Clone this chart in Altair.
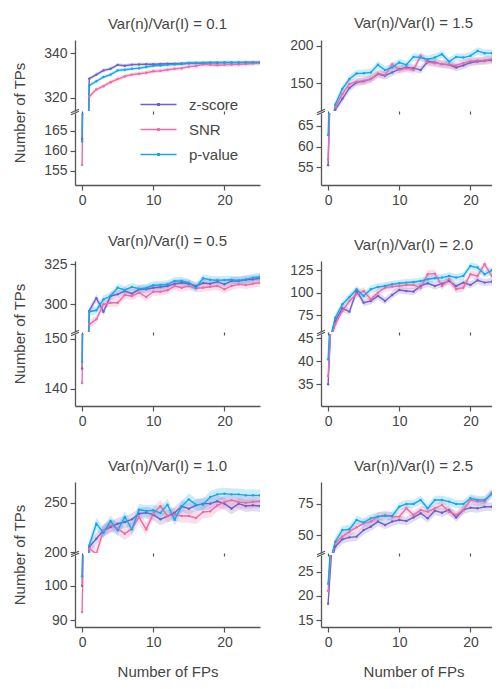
import altair as alt
import pandas as pd

# ---------------- data ----------------
FPS = list(range(26))
METHODS = ["z-score", "SNR", "p-value"]
COLORS = ["#7060c6", "#ee6ba6", "#12a8ec"]
RATIOS = ["0.1", "1.5", "0.5", "2.0", "1.0", "2.5"]

# Var(n)/Var(I) = 0.1
z_01 = [163.0, 328.6, 330.4, 332.3, 333.0, 334.8, 334.4, 334.9, 335.0, 335.1, 335.1, 335.2, 335.3,
        335.3, 335.4, 335.5, 335.6, 335.6, 335.7, 335.7, 335.8, 335.8, 335.8, 335.9, 335.9, 335.9]
s_01 = [156.5, 320.5, 323.7, 325.2, 327.0, 328.4, 329.6, 330.4, 330.8, 331.2, 331.9, 332.1, 332.6,
        333.0, 333.3, 334.0, 334.3, 335.0, 334.8, 334.6, 334.8, 334.9, 335.0, 335.2, 335.4, 335.6]
p_01 = [162.3, 325.5, 327.4, 329.3, 330.4, 332.3, 332.6, 333.0, 333.3, 333.8, 334.4, 334.5, 334.8,
        335.0, 335.2, 335.6, 335.7, 335.8, 335.9, 335.9, 335.9, 335.9, 335.9, 335.9, 335.9, 335.9]
# 1.5
z_15 = [55.5, 115.0, 129.3, 143.9, 151.3, 152.7, 155.8, 162.4, 160.2, 164.6, 169.1, 171.3, 170.4,
        167.8, 179.2, 177.9, 175.7, 174.8, 171.3, 174.0, 177.9, 179.2, 180.0, 181.0, 183.7, 184.0]
s_15 = [56.8, 118.0, 135.9, 149.2, 152.3, 153.6, 155.8, 163.3, 161.1, 175.7, 168.0, 170.0, 167.8,
        186.8, 178.0, 177.0, 176.0, 175.0, 174.0, 177.0, 179.7, 180.5, 181.0, 182.5, 185.0, 186.0]
p_15 = [62.8, 121.7, 142.5, 155.8, 163.3, 163.5, 164.6, 174.8, 167.8, 171.3, 177.9, 174.8, 185.4,
        184.5, 182.4, 184.5, 189.0, 179.2, 185.4, 184.5, 186.8, 193.4, 190.4, 190.4, 194.3, 193.0]
# 0.5
z_05 = [144.0, 296.0, 303.8, 295.4, 305.2, 306.3, 308.3, 306.7, 309.4, 309.4, 310.4, 310.8, 311.5,
        312.9, 313.5, 312.9, 311.5, 313.3, 312.9, 314.2, 312.5, 314.6, 314.6, 315.4, 315.6, 316.3]
s_05 = [141.1, 287.5, 290.6, 300.0, 301.0, 301.0, 305.8, 305.2, 307.3, 304.6, 307.9, 307.9, 308.8,
        311.5, 310.4, 311.5, 310.0, 310.4, 311.0, 311.5, 309.4, 311.5, 312.5, 312.1, 312.9, 313.5]
p_05 = [145.3, 295.4, 296.3, 303.1, 305.2, 310.4, 309.0, 310.8, 309.8, 310.2, 311.9, 312.1, 312.5,
        314.6, 314.6, 313.5, 310.4, 316.3, 315.4, 315.0, 315.2, 315.4, 315.0, 315.6, 316.7, 317.1]
# 2.0
z_20 = [35.0, 68.7, 82.8, 79.1, 102.0, 89.1, 91.0, 96.5, 91.0, 97.6, 103.1, 102.0, 101.3,
        107.6, 110.6, 107.6, 110.2, 113.1, 107.6, 111.3, 108.7, 113.9, 111.3, 112.4, 111.7, 111.3]
s_20 = [36.8, 65.0, 79.8, 90.9, 98.3, 102.0, 92.8, 100.2, 105.7, 106.9, 107.6, 108.7, 108.7,
        105.7, 120.6, 121.3, 107.6, 115.0, 103.9, 105.7, 120.6, 118.7, 131.7, 118.7, 122.4, 125.0]
p_20 = [40.4, 72.4, 87.2, 95.4, 103.9, 96.5, 103.9, 106.5, 107.6, 109.4, 110.6, 111.3, 112.0,
        113.1, 115.0, 116.1, 116.9, 118.7, 116.9, 118.7, 129.8, 128.0, 120.6, 125.0, 127.2, 128.0]
# 1.0
z_10 = [100.0, 205.0, 213.6, 222.1, 225.5, 228.9, 230.6, 233.3, 239.1, 240.1, 238.1, 233.3, 236.7,
        240.1, 246.6, 244.2, 247.6, 249.3, 249.3, 251.7, 249.3, 244.2, 249.3, 246.9, 247.6, 246.9]
s_10 = [92.4, 203.4, 198.3, 222.1, 227.2, 223.8, 218.7, 223.8, 235.7, 223.1, 239.1, 246.9, 236.7,
        238.1, 236.7, 236.7, 234.7, 240.8, 241.5, 247.6, 251.0, 252.7, 251.0, 250.3, 251.0, 251.7]
p_10 = [102.8, 206.8, 228.9, 219.7, 231.6, 222.1, 235.7, 223.1, 243.2, 241.8, 242.5, 239.8, 248.3,
        233.0, 246.6, 253.7, 248.3, 248.3, 256.1, 258.8, 259.5, 258.8, 258.8, 257.8, 257.8, 257.8]
# 2.5
z_25 = [18.4, 40.6, 46.5, 48.1, 48.7, 54.0, 56.7, 60.8, 58.1, 60.8, 62.1, 61.3, 64.2,
        67.5, 63.4, 69.6, 68.0, 70.2, 64.2, 70.2, 72.0, 71.5, 72.8, 72.8, 72.3, 71.5]
s_25 = [21.0, 43.3, 48.7, 52.7, 56.2, 59.4, 60.8, 64.8, 66.1, 64.8, 64.8, 71.5, 66.1,
        70.2, 68.8, 71.5, 74.2, 68.8, 66.1, 70.2, 78.2, 76.9, 76.9, 84.1, 86.8, 86.3]
p_25 = [22.5, 44.6, 54.0, 54.6, 62.1, 60.0, 63.4, 64.8, 65.3, 65.3, 72.8, 75.0, 75.0,
        78.2, 71.5, 78.2, 78.2, 76.9, 75.0, 75.0, 79.6, 78.2, 78.2, 83.1, 80.4, 81.5]

SERIES = {
    "0.1": (z_01, s_01, p_01), "1.5": (z_15, s_15, p_15),
    "0.5": (z_05, s_05, p_05), "2.0": (z_20, s_20, p_20),
    "1.0": (z_10, s_10, p_10), "2.5": (z_25, s_25, p_25),
}
# CI half-widths per method (z, SNR, p) for FP>=1 and for FP=0
HALF = {
    "0.1": ([0.8, 1.0, 0.8], [2.5, 4.0, 2.0]),
    "1.5": ([5.0, 5.0, 5.0], [2.0, 2.5, 2.0]),
    "0.5": ([2.5, 2.5, 2.5], [2.5, 3.0, 2.5]),
    "2.0": ([4.0, 4.5, 4.0], [1.5, 1.5, 1.5]),
    "1.0": ([6.0, 6.5, 6.0], [4.0, 4.0, 4.0]),
    "2.5": ([3.5, 3.5, 3.5], [1.0, 1.0, 1.0]),
}
# broken y axis: (upper domain, upper ticks, lower domain, lower ticks)
YAXES = {
    "0.1": ([314, 346], [320, 340], [151.5, 169.4], [155, 160, 165]),
    "1.5": ([113, 208], [150, 200], [50.7, 68.1], [55, 60, 65]),
    "0.5": ([282.7, 327.1], [300, 325], [136.5, 150.9], [140, 150]),
    "2.0": ([56.5, 135.3], [75, 100, 125], [30.3, 45.9], [35, 40, 45]),
    "1.0": ([199, 271.4], [200, 250], [88, 109], [90, 100]),
    "2.5": ([35.5, 92.7], [50, 75], [13.6, 28.4], [15, 20, 25]),
}

rows = []
for r in RATIOS:
    half, half0 = HALF[r]
    for m, vals, h, h0 in zip(METHODS, SERIES[r], half, half0):
        for fp, v in zip(FPS, vals):
            hw = h0 if fp == 0 else h
            rows.append(dict(ratio=r, fp=fp, method=m, tps=v, lo=v - hw, hi=v + hw))
df = pd.DataFrame(rows)

# ---------------- layout ----------------
W, HT, HB = 185, 71, 72          # left column plot width, upper / lower sub-plot heights
WR = 171                          # right column is cut off by the page edge
XMAX_L = 25
XMAX_R = -1 + WR * (XMAX_L + 1) / W
TXT = "#454545"
AX = "#555555"
FONT = "Liberation Sans"

color_scale = alt.Scale(domain=METHODS, range=COLORS)
# separate (reversed) domain so the band legend is not merged with the line legend
fill_scale = alt.Scale(domain=METHODS[::-1], range=COLORS[::-1])
legend = alt.Legend(
    title=None, orient="none", legendX=76, legendY=57, padding=0,
    symbolType="M-4,0L4,0M-0.15,-0.15L0.15,-0.15L0.15,0.15L-0.15,0.15Z",
    symbolSize=81, symbolStrokeWidth=1.5, labelFontSize=15, labelColor=TXT,
    labelFont=FONT, labelOffset=23, rowPadding=9,
)


def sub(ratio, part, left, last):
    d = df[df.ratio == ratio]
    dtop, ttop, dbot, tbot = YAXES[ratio]
    dom, ticks = (dtop, ttop) if part == "top" else (dbot, tbot)
    h = HT if part == "top" else HB
    w = W if left else WR
    xsc = alt.Scale(domain=[-1, XMAX_L if left else XMAX_R], nice=False, zero=False)
    ysc = alt.Scale(domain=dom, nice=False, zero=False)
    if part == "top":
        xax = alt.Axis(values=[0, 10, 20], labels=False, domain=False, ticks=True, tickSize=3,
                       tickColor=AX, tickWidth=1.2, title=None, grid=False)
    else:
        xargs = dict(values=[0, 10, 20], tickSize=5, tickColor=AX, tickWidth=1.2,
                     domainColor=AX, domainWidth=1.3, labelFontSize=14, labelColor=TXT,
                     labelFont=FONT, labelPadding=3, grid=False, title=None)
        if last:
            xargs.update(title="Number of FPs", titleFontSize=15, titleFontWeight="normal",
                         titleColor=TXT, titleFont=FONT, titlePadding=15, titleX=W / 2)
        xax = alt.Axis(**xargs)
    yargs = dict(values=ticks, tickSize=5, tickColor=AX, tickWidth=1.2, domainColor=AX,
                 domainWidth=1.3, labelFontSize=14, labelColor=TXT, labelFont=FONT,
                 labelPadding=3, grid=False, title=None)
    if part == "top" and left:
        yargs.update(title="Number of TPs", titleFontSize=15, titleFontWeight="normal",
                     titleColor=TXT, titleFont=FONT, titleY=(HT + 2 + HB) / 2, titleX=-48,
                     titleAlign="center")
    yax = alt.Axis(**yargs)

    band = alt.Chart(d).mark_area(opacity=0.22, clip=True).encode(
        x=alt.X("fp:Q", scale=xsc, axis=xax),
        y=alt.Y("lo:Q", scale=ysc, axis=yax),
        y2="hi:Q",
        fill=alt.Fill("method:N", scale=fill_scale, legend=None),
        detail="method:N",
    )
    line = alt.Chart(d).mark_line(
        clip=True, strokeWidth=1.4,
        point=alt.OverlayMarkDef(filled=True, size=6, clip=True),
    ).encode(
        x=alt.X("fp:Q", scale=xsc, axis=xax),
        y=alt.Y("tps:Q", scale=ysc, axis=yax),
        color=alt.Color("method:N", scale=color_scale, legend=legend),
    )
    y0, y1 = (h + 1.8, h - 1.8) if part == "top" else (1.8, -1.8)
    brk = alt.Chart(pd.DataFrame({"k": [0]})).mark_rule(
        clip=False, color=AX, strokeWidth=1.2
    ).encode(x=alt.value(-4), x2=alt.value(4), y=alt.value(y0), y2=alt.value(y1))
    ch = alt.layer(band, line, brk).properties(width=w, height=h)
    if part == "top":
        ch = ch.properties(title=alt.TitleParams(
            f"Var(n)/Var(I) = {ratio}", fontSize=15, fontWeight="normal", color=TXT,
            font=FONT, frame="group", anchor="middle", offset=8,
            dx=0 if left else (W - WR) / 2))
    return ch


def spacer(w):
    return alt.Chart(pd.DataFrame({"k": [0]})).mark_point(opacity=0).encode(
        x=alt.value(0), y=alt.value(0)
    ).properties(width=w, height=72)


cells = []
for i in range(3):
    a, b = RATIOS[2 * i], RATIOS[2 * i + 1]
    last = i == 2
    cells += [sub(a, "top", True, last), sub(b, "top", False, last),
              sub(a, "bot", True, last), sub(b, "bot", False, last)]
    if not last:
        cells += [spacer(W), spacer(WR)]

chart = alt.concat(
    *cells, columns=2, spacing={"row": 2, "column": 61}, bounds="flush"
).configure(
    font=FONT, padding={"left": 3, "top": 7, "right": 0, "bottom": 0}
).configure_view(stroke=None, strokeWidth=0)

chart.save("out.html", embed_options={"renderer": "svg", "actions": False})
